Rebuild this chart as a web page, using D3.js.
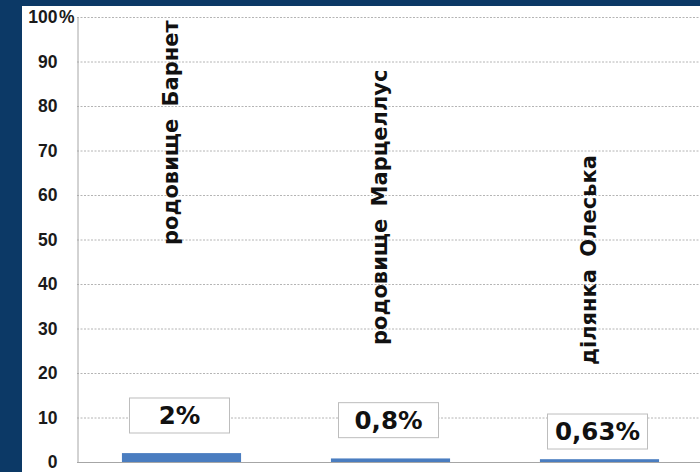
<!DOCTYPE html>
<html>
<head>
<meta charset="utf-8">
<script src="https://cdn.jsdelivr.net/npm/d3@7"></script>
<style>
  html, body { margin: 0; padding: 0; background: #0c3966; }
  svg { display: block; }
</style>
</head>
<body>
<svg id="chart" width="700" height="472"></svg>
<script>
// Categories and their shares (%)
const categories = ["родовище Барнет", "родовище Марцеллус", "ділянка Олеська"];
const values = [2, 0.8, 0.63];
const valueLabels = ["2%", "0,8%", "0,63%"];
const yTicks = [0, 10, 20, 30, 40, 50, 60, 70, 80, 90, 100];

// Layout of the annotations (in axis units / pixels)
const layout = {
  catLabelBottom: [245, 345, 365],   // where each rotated name starts (px)
  valueBoxCenter: [10.45, 9.4, 6.85] // value-box centre, in % on the y axis
};

const W = 700, H = 472;
const panel = { x: 22, y: 6 };
const margin = { top: 17, left: 77, bottom: 10 };
const plotW = 627, plotBottom = 462;

const svg = d3.select("#chart");

// white panel
svg.append("rect")
  .attr("x", panel.x).attr("y", panel.y)
  .attr("width", W - panel.x).attr("height", H - panel.y)
  .attr("fill", "#ffffff");

const x = d3.scaleBand()
  .domain(categories)
  .range([margin.left, margin.left + plotW])
  .paddingInner(0.43).paddingOuter(0.215);

const y = d3.scaleLinear()
  .domain([0, 100])
  .range([plotBottom, margin.top]);

// gridlines
svg.append("g")
  .selectAll("line")
  .data(yTicks.filter(d => d > 0))
  .join("line")
  .attr("x1", margin.left).attr("x2", W)
  .attr("y1", d => y(d) + 0.5).attr("y2", d => y(d) + 0.5)
  .attr("stroke", "#b4b4b4")
  .attr("stroke-width", 1)
  .attr("stroke-dasharray", "2,1.5");

// y axis
const yAxis = svg.append("g")
  .attr("transform", `translate(${margin.left + 0.5},0)`)
  .call(d3.axisLeft(y).tickValues(yTicks).tickFormat(d3.format("d")).tickSize(0).tickPadding(20));
yAxis.select(".domain").attr("stroke", "#a6a6a6");
yAxis.selectAll("text")
  .attr("font-family", "'Liberation Sans', Arial, sans-serif")
  .attr("font-weight", "bold")
  .attr("font-size", 17.5)
  .attr("fill", "#1a1a1a");

// percent sign after the top tick
svg.append("text")
  .attr("x", margin.left - 18)
  .attr("y", y(100))
  .attr("dy", "0.32em")
  .attr("font-family", "'Liberation Sans', Arial, sans-serif")
  .attr("font-weight", "bold")
  .attr("font-size", 17.5)
  .attr("fill", "#1a1a1a")
  .text("%");

// baseline
svg.append("line")
  .attr("x1", margin.left).attr("x2", W)
  .attr("y1", plotBottom + 0.5).attr("y2", plotBottom + 0.5)
  .attr("stroke", "#a6a6a6");

// bars
svg.append("g")
  .selectAll("rect")
  .data(values)
  .join("rect")
  .attr("x", (d, i) => x(categories[i]))
  .attr("y", d => y(d))
  .attr("width", x.bandwidth())
  .attr("height", d => y(0) - y(d))
  .attr("fill", "#4a7dc0");

// rotated category names
svg.append("g")
  .selectAll("text")
  .data(categories)
  .join("text")
  .attr("transform", (d, i) => `translate(${x(d) + x.bandwidth() / 2 - 4},${layout.catLabelBottom[i]}) rotate(-90)`)
  .attr("font-family", "'DejaVu Sans', sans-serif")
  .attr("font-weight", "bold")
  .attr("font-size", 21)
  .attr("word-spacing", 5)
  .attr("fill", "#111")
  .text(d => d);

// value boxes
const boxW = 100, boxH = 35;
const vg = svg.append("g")
  .selectAll("g")
  .data(valueLabels)
  .join("g")
  .attr("transform", (d, i) => `translate(${x(categories[i]) + x.bandwidth() / 2 - 2},${y(layout.valueBoxCenter[i])})`);
vg.append("rect")
  .attr("x", -boxW / 2).attr("y", -boxH / 2)
  .attr("width", boxW).attr("height", boxH)
  .attr("fill", "#ffffff")
  .attr("stroke", "#bdbdbd");
vg.append("text")
  .attr("text-anchor", "middle")
  .attr("dy", "0.36em")
  .attr("font-family", "'DejaVu Sans', sans-serif")
  .attr("font-weight", "bold")
  .attr("font-size", 24.5)
  .attr("fill", "#111")
  .text(d => d);
</script>
</body>
</html>
